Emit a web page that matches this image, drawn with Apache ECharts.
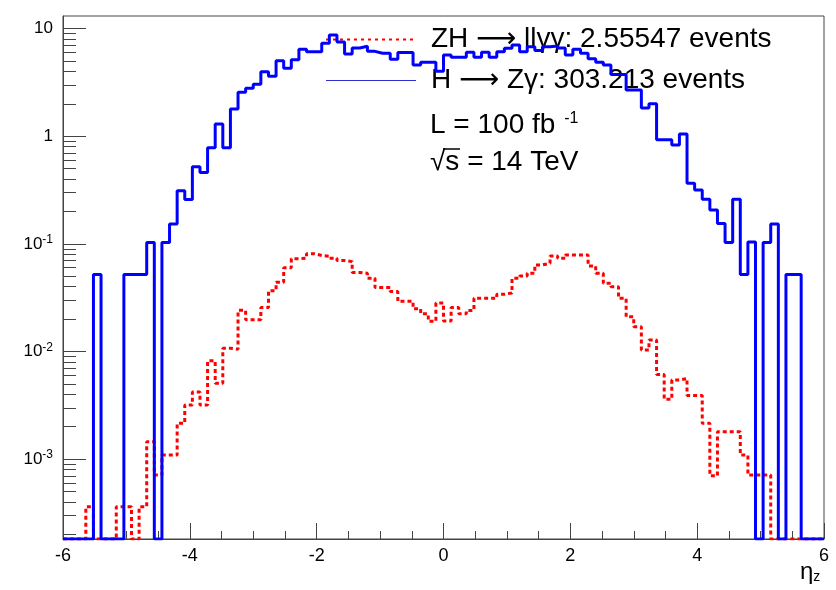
<!DOCTYPE html>
<html>
<head>
<meta charset="utf-8">
<script src="https://cdn.jsdelivr.net/npm/echarts@6.0.0/dist/echarts.min.js"></script>
<style>
  html, body { margin: 0; padding: 0; background: #fff; }
  #chart { width: 836px; height: 590px; }
</style>
</head>
<body>
<div id="chart"></div>
<script>
// ---- data ----
const X_MIN = -6;
const X_MAX = 6;
const N_BINS = 100;
const Y_MIN = 1.81e-4;
const Y_MAX = 13.1;

const SERIES_NAMES = ['ZH \u27f6 ll\u03b3\u03b3: 2.55547 events', 'H \u27f6 Z\u03b3: 303.213 events'];

// ZH -> ll gamma gamma (red, dashed)
const zhValues = [
  0, 0, 0, 3.6e-4, 0, 0, 0, 3.6e-4, 3.6e-4, 0,
  3.6e-4, 1.45e-3, 7.1e-4, 1.09e-3, 1.09e-3, 2.15e-3, 3.18e-3, 4.2e-3, 3.18e-3, 8.2e-3,
  5.06e-3, 0.0107, 0.0105, 0.0241, 0.0197, 0.0197, 0.0256, 0.0367, 0.0441, 0.060,
  0.0728, 0.0735, 0.081, 0.078, 0.0768, 0.0735, 0.070, 0.0684, 0.0543, 0.0533,
  0.048, 0.0393, 0.0393, 0.036, 0.0293, 0.0293, 0.025, 0.0224, 0.0191, 0.0282,
  0.0192, 0.0256, 0.0224, 0.024, 0.0312, 0.0312, 0.0312, 0.034, 0.035, 0.0479,
  0.0503, 0.0533, 0.0637, 0.066, 0.0772, 0.0735, 0.0788, 0.0788, 0.0788, 0.0623,
  0.0533, 0.043, 0.040, 0.0312, 0.021, 0.017, 0.0103, 0.0128, 6.1e-3, 3.6e-3,
  5.43e-3, 5.6e-3, 3.9e-3, 3.9e-3, 2.15e-3, 7.0e-4, 1.8e-3, 1.8e-3, 1.8e-3, 1.09e-3,
  7.1e-4, 7.1e-4, 7.1e-4, 0, 0, 0, 0, 0, 0, 0
];

// H -> Z gamma (blue, solid)
const hzgValues = [
  0, 0, 0, 0, 0.052, 0, 0, 0, 0.052, 0.052,
  0.052, 0.103, 0, 0.103, 0.153, 0.312, 0.258, 0.52, 0.46, 0.78,
  1.30, 0.78, 1.79, 2.56, 2.79, 3.04, 3.98, 3.61, 5.04, 4.28,
  5.15, 6.44, 6.11, 6.11, 7.31, 8.74, 7.5, 5.8, 6.6, 6.85,
  6.15, 5.91, 5.91, 5.2, 6.0, 6.0, 4.6, 4.88, 4.88, 4.02,
  5.7, 5.42, 5.42, 6.04, 5.42, 6.04, 5.42, 6.11, 6.58, 7.06,
  6.11, 6.8, 6.25, 6.8, 6.9, 6.6, 5.69, 6.44, 5.9, 5.25,
  4.88, 4.6, 3.75, 3.75, 2.69, 2.69, 1.83, 2.0, 0.93, 0.93,
  0.83, 1.05, 0.366, 0.317, 0.26, 0.206, 0.155, 0.103, 0.26, 0.052,
  0.104, 0, 0.103, 0.153, 0, 0.052, 0.052, 0, 0, 0
];

const X_TICK_INTERVAL = 2;
const Y_MAJOR_TICKS = [0.001, 0.01, 0.1, 1, 10];
const Y_TICK_LABELS = ['10{sup|-3}', '10{sup|-2}', '10{sup|-1}', '1', '10'];

// ---- build ----
const FONT = 'Liberation Sans, Arial, Helvetica, DejaVu Sans, sans-serif';
const BIN_W = (X_MAX - X_MIN) / N_BINS;

function toSteps(vals) {
  const pts = vals.map((v, i) => [X_MIN + i * BIN_W, v > 0 ? v : Y_MIN]);
  const last = vals[vals.length - 1];
  pts.push([X_MAX, last > 0 ? last : Y_MIN]);
  return pts;
}

const yMinorTicks = [];
[1e-4, 1e-3, 1e-2, 1e-1, 1].forEach(d => {
  for (let m = 2; m <= 9; m++) {
    const v = m * d;
    if (v >= Y_MIN && v <= Y_MAX) yMinorTicks.push(v);
  }
});

const AXIS_COLOR = '#444';

const option = {
  animation: false,
  backgroundColor: '#fff',
  grid: {
    left: 63, top: 16, width: 761, height: 523,
    show: true, borderColor: AXIS_COLOR, borderWidth: 1, backgroundColor: 'transparent'
  },
  legend: {
    orient: 'vertical',
    left: 320, top: 14,
    itemWidth: 90, itemHeight: 12, itemGap: 0,
    selectedMode: false,
    itemStyle: { opacity: 0 },
    textStyle: { fontFamily: FONT, fontSize: 28, color: '#000', lineHeight: 41, padding: [0, 0, 0, 10] },
    data: [
      { name: SERIES_NAMES[0], itemStyle: { opacity: 0 }, lineStyle: { width: 2, type: [3, 4], color: '#ff0000' } },
      { name: SERIES_NAMES[1], itemStyle: { opacity: 0 }, lineStyle: { width: 1, color: '#3030d0' } }
    ]
  },
  xAxis: {
    type: 'value', min: X_MIN, max: X_MAX, interval: X_TICK_INTERVAL,
    axisLine: { show: true, onZero: false, lineStyle: { color: AXIS_COLOR, width: 1 } },
    axisTick: { show: true, inside: true, length: 16, lineStyle: { color: AXIS_COLOR } },
    minorTick: { show: true, splitNumber: 4, length: 8, lineStyle: { color: AXIS_COLOR } },
    splitLine: { show: false },
    axisLabel: { fontFamily: FONT, fontSize: 18, color: '#000', margin: 8 }
  },
  yAxis: [
    {
      type: 'log', logBase: 10, min: Y_MIN, max: Y_MAX, position: 'left',
      axisLine: { show: true, onZero: false, lineStyle: { color: AXIS_COLOR, width: 1 } },
      axisTick: { show: true, inside: true, length: 23, customValues: Y_MAJOR_TICKS, lineStyle: { color: AXIS_COLOR } },
      splitLine: { show: false },
      axisLabel: {
        customValues: Y_MAJOR_TICKS,
        fontFamily: FONT, fontSize: 17, color: '#000', margin: 10,
        formatter: v => {
          const e = Math.round(Math.log10(v));
          const idx = Y_MAJOR_TICKS.findIndex(t => Math.round(Math.log10(t)) === e);
          return idx >= 0 ? Y_TICK_LABELS[idx] : '';
        },
        rich: {
          sup: { fontFamily: FONT, fontSize: 12, color: '#000', verticalAlign: 'top', padding: [0, 0, 8, 0] }
        }
      }
    },
    {
      type: 'log', logBase: 10, min: Y_MIN, max: Y_MAX, position: 'left', offset: 0,
      axisLine: { show: false, onZero: false },
      axisTick: { show: true, inside: true, length: 13, customValues: yMinorTicks, lineStyle: { color: AXIS_COLOR } },
      splitLine: { show: false },
      axisLabel: { show: false }
    }
  ],
  series: [
    {
      name: SERIES_NAMES[0], type: 'line', step: 'end', symbol: 'none', showSymbol: false,
      data: toSteps(zhValues), clip: true, z: 3,
      lineStyle: { color: '#ff0000', width: 3, type: [4, 3] },
      itemStyle: { color: '#ff0000' }
    },
    {
      name: SERIES_NAMES[1], type: 'line', step: 'end', symbol: 'none', showSymbol: false,
      data: toSteps(hzgValues), clip: true, z: 4,
      lineStyle: { color: '#0000ff', width: 3 },
      itemStyle: { color: '#0000ff' }
    }
  ],
  graphic: [
    {
      type: 'text', left: 430, top: 111, z: 10,
      style: {
        text: 'L = 100 fb{sup|  -1}', fontFamily: FONT, fontSize: 28, fill: '#000',
        rich: { sup: { fontFamily: FONT, fontSize: 16, fill: '#000', verticalAlign: 'top', padding: [0, 0, 12, 0] } }
      }
    },
    {
      type: 'text', left: 430, top: 148, z: 10,
      style: { text: '\u221As = 14 TeV', fontFamily: FONT, fontSize: 28, fill: '#000' }
    },
    {
      type: 'line', z: 10,
      shape: { x1: 443, y1: 149, x2: 460, y2: 149 },
      style: { stroke: '#000', lineWidth: 1.5 }
    },
    {
      type: 'text', left: 800, top: 560, z: 10,
      style: {
        text: '\u03b7{sub|z}', fontFamily: FONT, fontSize: 24, fill: '#000',
        rich: { sub: { fontFamily: FONT, fontSize: 14, fill: '#000', verticalAlign: 'bottom', padding: [10, 0, 0, 0] } }
      }
    }
  ]
};

const chart = echarts.init(document.getElementById('chart'), null, { renderer: 'canvas' });
chart.setOption(option);
</script>
</body>
</html>
